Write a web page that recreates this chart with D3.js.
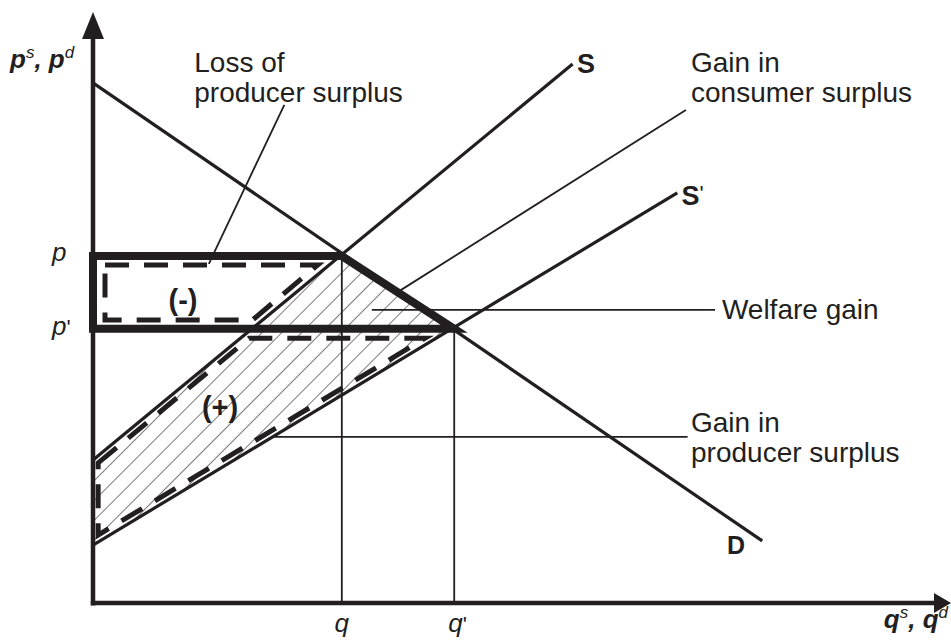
<!DOCTYPE html>
<html>
<head>
<meta charset="utf-8">
<script src="https://d3js.org/d3.v7.min.js"></script>
<style>
  body { margin: 0; background: #fff; }
  svg { display: block; font-family: "Liberation Sans", Arial, sans-serif; }
</style>
</head>
<body>
<svg id="chart"></svg>
<script>
// model units: 0-100 on both axes
var demand = [[0, 88.0], [78.0, 10.5]];
var supply = [[0, 24.2], [55.9, 91.2]];
var supplyNew = [[0, 9.8], [68.1, 69.4]];

var qOld = 29.0, qNew = 42.1;
var pOld = 58.7, pNew = 46.4;

// hatched area between S and S' up to the demand curve
var gainArea = [[0, 24.2], [qOld, pOld], [qNew, pNew], [0, 9.8]];
// thick outline of the price change
var priceBox = [[0, pOld], [qOld, pOld], [qNew, pNew], [0, pNew]];
// dashed outlines
var lossDash = [[1.4, 57.2], [26.2, 57.2], [18.6, 47.9], [1.4, 47.9]];
var gainDash = [[0.6, 23.7], [18.2, 44.8], [38.7, 44.8], [0.6, 11.5]];

// leader lines [from, to]
var leaders = [
  [[22.3, 84.3], [13.5, 57.4]],
  [[69.1, 83.4], [35.5, 52.6]],
  [[32.5, 49.6], [72.5, 49.6]],
  [[21.0, 28.1], [69.3, 28.1]]
];
var noteText = ["Loss of", "producer surplus", "Gain in", "consumer surplus",
                "Welfare gain", "Gain in", "producer surplus"];
var notePos = [[11.8, 89.8], [11.8, 84.8], [69.7, 89.8], [69.7, 84.8],
               [73.3, 48.1], [69.7, 28.9], [69.7, 23.9]];

var W = 951, H = 642;
var ink = "#231f20";

var svg = d3.select("#chart").attr("width", W).attr("height", H);

var x = d3.scaleLinear().domain([0, 100]).range([93, 951]);
var y = d3.scaleLinear().domain([0, 100]).range([603, 12]);

var line = d3.line().x(function (d) { return x(d[0]); }).y(function (d) { return y(d[1]); });

// hatch pattern
var defs = svg.append("defs");
var pat = defs.append("pattern")
  .attr("id", "hatch")
  .attr("patternUnits", "userSpaceOnUse")
  .attr("width", 14).attr("height", 14)
  .attr("patternTransform", "rotate(45)");
pat.append("line")
  .attr("x1", 0).attr("y1", 0).attr("x2", 0).attr("y2", 14)
  .attr("stroke", ink).attr("stroke-width", 1.2);

svg.append("path")
  .attr("d", line(gainArea) + "Z")
  .attr("fill", "url(#hatch)");

// q verticals
svg.append("line")
  .attr("x1", x(qOld)).attr("x2", x(qOld))
  .attr("y1", y(pOld)).attr("y2", y(0))
  .attr("stroke", ink).attr("stroke-width", 1.8);
svg.append("line")
  .attr("x1", x(qNew)).attr("x2", x(qNew))
  .attr("y1", y(pNew)).attr("y2", y(0))
  .attr("stroke", ink).attr("stroke-width", 1.8);

// leaders
svg.selectAll(".leader")
  .data(leaders)
  .enter()
  .append("path")
  .attr("class", "leader")
  .attr("d", function (d) { return line(d); })
  .attr("stroke", ink).attr("stroke-width", 1.8).attr("fill", "none");

// curves
[demand, supply, supplyNew].forEach(function (c) {
  svg.append("path")
    .attr("d", line(c))
    .attr("stroke", ink).attr("stroke-width", 3.2).attr("fill", "none");
});

// thick price outline
svg.append("path")
  .attr("d", line(priceBox) + "Z")
  .attr("stroke", ink).attr("stroke-width", 8)
  .attr("stroke-linejoin", "miter").attr("fill", "none");

// dashed outlines
[lossDash, gainDash].forEach(function (c) {
  svg.append("path")
    .attr("d", line(c) + "Z")
    .attr("stroke", ink).attr("stroke-width", 5)
    .attr("stroke-dasharray", "24,15")
    .attr("fill", "none");
});

// axes
svg.append("line")
  .attr("x1", x(0)).attr("x2", x(0))
  .attr("y1", y(0) + 2.5).attr("y2", y(100) + 26)
  .attr("stroke", ink).attr("stroke-width", 4.5);
svg.append("path")
  .attr("d", "M" + x(0) + "," + y(100) + "L" + (x(0) - 11) + "," + (y(100) + 27) +
             "L" + (x(0) + 11) + "," + (y(100) + 27) + "Z")
  .attr("fill", ink);
svg.append("line")
  .attr("x1", x(0) - 2.2).attr("x2", x(100) - 16)
  .attr("y1", y(0)).attr("y2", y(0))
  .attr("stroke", ink).attr("stroke-width", 4.5);
svg.append("path")
  .attr("d", "M" + x(100) + "," + y(0) + "L" + (x(100) - 17) + "," + (y(0) - 10) +
             "L" + (x(100) - 17) + "," + (y(0) + 10) + "Z")
  .attr("fill", ink);

// notes
svg.selectAll(".note")
  .data(noteText)
  .enter()
  .append("text")
  .attr("class", "note")
  .attr("x", function (d, i) { return x(notePos[i][0]); })
  .attr("y", function (d, i) { return y(notePos[i][1]); })
  .attr("font-size", 28)
  .attr("fill", ink)
  .text(function (d) { return d; });

// curve names
function label(px, py, main, prime, size) {
  var t = svg.append("text")
    .attr("x", x(px)).attr("y", y(py))
    .attr("font-size", size).attr("font-weight", "bold").attr("fill", ink);
  t.append("tspan").text(main);
  if (prime) t.append("tspan").attr("font-weight", "normal").attr("dy", -4).attr("font-size", size * 0.8).text("'");
  return t;
}
label(56.4, 89.7, "S", false, 27);
label(68.6, 67.3, "S", true, 27);
label(73.9, 8.3, "D", false, 25);

// price / quantity marks
function ital(px, py, main, prime, anchor) {
  var t = svg.append("text")
    .attr("x", px).attr("y", py)
    .attr("font-size", 26).attr("font-style", "italic").attr("fill", ink)
    .attr("text-anchor", anchor || "start");
  t.append("tspan").text(main);
  if (prime) t.append("tspan").attr("font-style", "normal").attr("font-size", 22).text("'");
}
ital(x(0) - 41, y(pOld) + 5, "p", false);
ital(x(0) - 41, y(pNew) + 6, "p", true);
ital(x(qOld), 632, "q", false, "middle");
ital(x(qNew) - 6, 632, "q", true);

// axis titles
function axisTitle(px, py, a, anchor) {
  var t = svg.append("text")
    .attr("x", px).attr("y", py)
    .attr("font-size", 26).attr("font-weight", "bold").attr("font-style", "italic")
    .attr("fill", ink).attr("text-anchor", anchor);
  t.append("tspan").text(a);
  t.append("tspan").attr("dy", -10).attr("font-size", 17).attr("font-weight", "normal").text("s");
  t.append("tspan").attr("dy", 10).text(", " + a);
  t.append("tspan").attr("dy", -10).attr("font-size", 17).attr("font-weight", "normal").text("d");
}
axisTitle(10, 68, "p", "start");
axisTitle(948, 628, "q", "end");

// area signs
svg.append("text").attr("x", 183).attr("y", y(49.6))
  .attr("text-anchor", "middle").attr("font-size", 29).attr("font-weight", "bold")
  .attr("fill", ink).text("(-)");
svg.append("text").attr("x", 220).attr("y", y(31.5))
  .attr("text-anchor", "middle").attr("font-size", 29).attr("font-weight", "bold")
  .attr("fill", ink).text("(+)");
</script>
</body>
</html>
